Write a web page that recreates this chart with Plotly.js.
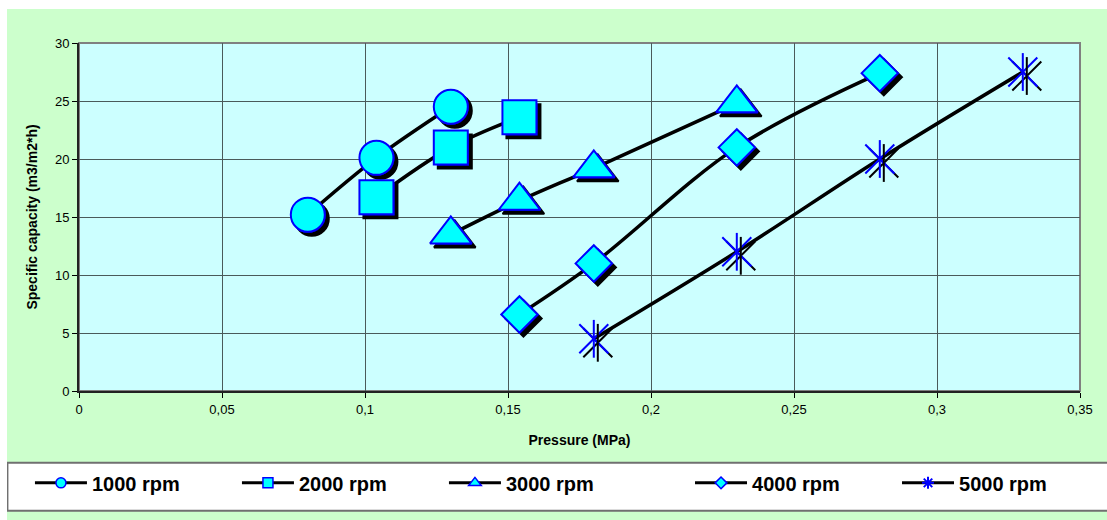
<!DOCTYPE html>
<html>
<head>
<meta charset="utf-8">
<script src="https://cdn.plot.ly/plotly-3.0.1.min.js"></script>
<style>
  html, body { margin: 0; padding: 0; background: #ffffff; }
  #chart { position: absolute; left: 7px; top: 9px; width: 1100px; height: 511px; }
  #chart .scatterlayer .points path { filter: url(#shd); }
</style>
</head>
<body>
<svg width="0" height="0" style="position:absolute">
  <defs>
    <filter id="shd" filterUnits="userSpaceOnUse" x="-60" y="-60" width="120" height="120">
      <feDropShadow dx="4" dy="4" stdDeviation="0" flood-color="#000000" flood-opacity="1"/>
    </filter>
  </defs>
</svg>
<div id="chart"></div>
<script>
// ---- data ----
const seriesNames = ['1000 rpm', '2000 rpm', '3000 rpm', '4000 rpm', '5000 rpm'];

const x1000 = [0.08, 0.104, 0.13];
const y1000 = [15.2, 20.1, 24.5];

const x2000 = [0.104, 0.13, 0.154];
const y2000 = [16.7, 21.0, 23.6];

const x3000 = [0.13, 0.154, 0.18, 0.23];
const y3000 = [13.5, 16.4, 19.2, 24.8];

const x4000 = [0.154, 0.18, 0.23, 0.28];
const y4000 = [6.6, 11.0, 21.0, 27.4];

const x5000 = [0.18, 0.23, 0.28, 0.33];
const y5000 = [4.5, 12.0, 20.0, 27.5];

const xTickVals = [0, 0.05, 0.1, 0.15, 0.2, 0.25, 0.3, 0.35];
const yTickVals = [0, 5, 10, 15, 20, 25, 30];

// ---- styles ----
const CYAN = '#00FFFF', BLUE = '#0000FF';
const lineStyle = { color: '#000000', width: 3.5, shape: 'spline', smoothing: 1 };

function mainTrace(x, y, symbol, size) {
  return {
    type: 'scatter', mode: 'lines+markers', x: x, y: y, showlegend: false,
    line: lineStyle,
    marker: { symbol: symbol, size: size, color: CYAN, line: { color: BLUE, width: 2 } },
    hoverinfo: 'skip'
  };
}
function legendTrace(name, symbol, size, legendId) {
  return {
    type: 'scatter', mode: 'lines+markers', x: [null], y: [null], name: name, legend: legendId,
    line: { color: '#000000', width: 3 },
    marker: { symbol: symbol, size: size, color: CYAN, line: { color: BLUE, width: 1.5 } }
  };
}

const data = [
  mainTrace(x1000, y1000, 'circle', 34),
  mainTrace(x2000, y2000, 'square', 34),
  mainTrace(x3000, y3000, 'triangle-up', 36),
  mainTrace(x4000, y4000, 'diamond', 28),
  {
    type: 'scatter', mode: 'lines+markers', x: x5000, y: y5000, showlegend: false,
    line: lineStyle,
    marker: { symbol: 'x-thin-open', size: 29, color: BLUE, line: { color: BLUE, width: 2 } },
    hoverinfo: 'skip'
  },
  {
    type: 'scatter', mode: 'markers', x: x5000, y: y5000, showlegend: false,
    marker: { symbol: 'line-ns-open', size: 27, color: BLUE, line: { color: BLUE, width: 2 } },
    hoverinfo: 'skip'
  },
  legendTrace(seriesNames[0], 'circle', 10, 'legend'),
  legendTrace(seriesNames[1], 'square', 10, 'legend'),
  legendTrace(seriesNames[2], 'triangle-up', 11, 'legend'),
  legendTrace(seriesNames[3], 'diamond', 9, 'legend2'),
  {
    type: 'scatter', mode: 'lines+markers', x: [null], y: [null], name: seriesNames[4], legend: 'legend2',
    line: { color: '#000000', width: 3 },
    marker: { symbol: 'asterisk-open', size: 10, color: BLUE, line: { color: BLUE, width: 2 } }
  }
];

const FONT = 'Liberation Sans, Arial, sans-serif';
const legendCommon = {
  orientation: 'h', xanchor: 'left', y: -0.264, yanchor: 'middle',
  bgcolor: 'rgba(0,0,0,0)', borderwidth: 0,
  font: { family: FONT, size: 20, color: '#000', weight: 'bold' },
  itemwidth: 52, entrywidth: 140, entrywidthmode: 'pixels',
  traceorder: 'normal', itemclick: false, itemdoubleclick: false
};

const layout = {
  width: 1100, height: 511,
  margin: { l: 72, r: 27, t: 34, b: 129, autoexpand: false },
  paper_bgcolor: '#CCFFCC',
  plot_bgcolor: '#CCFFFF',
  separators: ',.',
  font: { family: FONT, size: 13, color: '#000000' },
  xaxis: {
    range: [0, 0.35], tickvals: xTickVals, ticks: 'outside', ticklen: 5, tickcolor: '#000',
    showgrid: true, gridcolor: '#4a5a5a', gridwidth: 1, zeroline: false,
    showline: true, linecolor: '#222222', linewidth: 2,
    tickfont: { family: FONT, size: 13, color: '#000' },
    title: { text: 'Pressure (MPa)', font: { family: FONT, size: 14, color: '#000', weight: 'bold' }, standoff: 20 },
    fixedrange: true
  },
  yaxis: {
    range: [0, 30], tickvals: yTickVals, ticks: 'outside', ticklen: 5, tickcolor: '#000',
    showgrid: true, gridcolor: '#4a5a5a', gridwidth: 1, zeroline: false,
    showline: true, linecolor: '#222222', linewidth: 2,
    tickfont: { family: FONT, size: 13, color: '#000' },
    title: { text: 'Specific capacity (m3/m2*h)', font: { family: FONT, size: 14, color: '#000', weight: 'bold' }, standoff: 14 },
    fixedrange: true
  },
  shapes: [
    { type: 'rect', xref: 'paper', yref: 'paper', x0: 0, x1: 1, y0: 0, y1: 1,
      line: { color: '#808080', width: 2 }, fillcolor: 'rgba(0,0,0,0)', layer: 'below' },
    { type: 'rect', xref: 'paper', yref: 'paper', x0: -0.0715, x1: 1.05, y0: -0.344, y1: -0.206,
      line: { color: '#707070', width: 2 }, fillcolor: '#FFFFFF', layer: 'below' }
  ],
  showlegend: true,
  legend: Object.assign({}, legendCommon, { x: -0.049 }),
  legend2: Object.assign({}, legendCommon, { x: 0.6104 })
};

Plotly.newPlot('chart', data, layout, { displayModeBar: false, staticPlot: true });
</script>
</body>
</html>
